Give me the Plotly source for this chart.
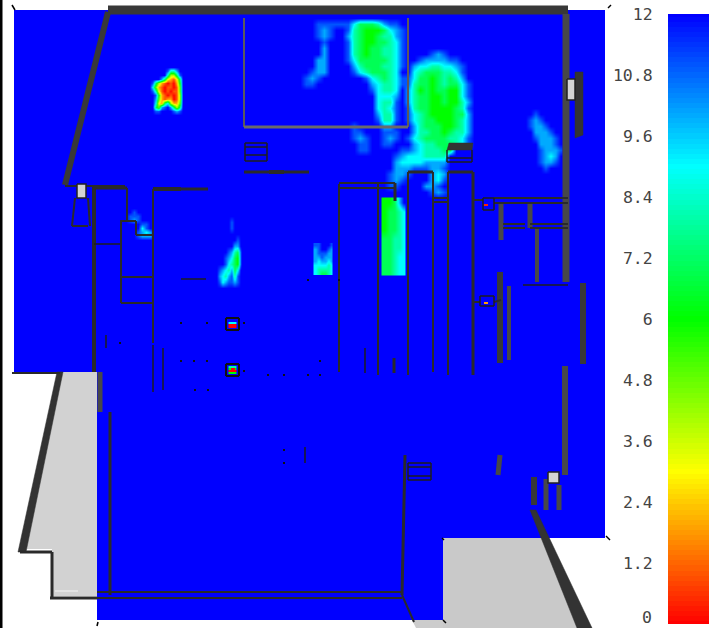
import numpy as np
import plotly.graph_objects as go

W, H = 721, 628
TICK_VALUES = [0, 1.2, 2.4, 3.6, 4.8, 6, 7.2, 8.4, 9.6, 10.8, 12]
TICK_TEXT = ["0", "1.2", "2.4", "3.6", "4.8", "6", "7.2", "8.4", "9.6", "10.8", "12"]
COLORSCALE = [[0, "#ff0000"], [0.25, "#ffff00"], [0.5, "#00ff00"], [0.75, "#00ffff"], [1, "#0000ff"]]
LEVELS = [i / 10 for i in range(0, 121)]

# Contour fields, one hexadecimal digit per cell (c = 12, blue)
MAIN_X = list(range(300, 480, 6))
MAIN_Y = list(range(18, 204, 6))
MAIN_ROWS = [
    "",
    "cccbbbbbb97778abb",
    "cccbabccb8766679ab",
    "cccbabcca8766788ab",
    "ccccbcccb87667789b",
    "ccccacccb87677889b",
    "ccccacccb87677889bccccbab",
    "cccaacccb97777789bccbaaaabb",
    "cccaacccca8777889bca998899ab",
    "ccbaaccccb9877789cc98777889b",
    "cbabcccccccb98789bb97767878a",
    "cbbccccccccca9889bb877678779b",
    "ccccccccccccb9889ca867677669b",
    "ccccccccccccc999aca877667669b",
    "ccccccccccccc988bca877667668a",
    "ccccccccccccc989bcb877666678b",
    "ccccccccccccca88bcb987666677a",
    "cccccccccccccb88bcb987766678a",
    "cccccccccbccccaaccca87776678a",
    "cccccccccbbcccbbbcca88776788a",
    "cccccccccbabccbabcb987777889b",
    "ccccccccccbbccbbccca98877789b",
    "ccccccccccbbcccccbba988877",
    "ccccccccccccccccba9998888",
    "cccccccccccccccca9999aaaa",
    "ccccccccccccccccaaabbbaab",
    "cccccccccccccccbaabccca9a",
    "cccccccccccccccbabcccca9b",
    "cccccccccccccccbbccccaab",
    "ccccccccccccccccccccccbab",
    "",
]
ROOM_X = [384, 389, 394, 399, 403]
ROOM_Y = [202, 211, 220, 229, 238, 247, 256, 265, 272]
ROOM_ROWS = ["667ac", "67789", "67789", "67789", "77889", "77889", "77899", "77899", "77899"]
NOOK_X = [315, 318, 321, 325, 328, 331]
NOOK_Y = [245, 249, 253, 257, 261, 265, 269, 273]
NOOK_ROWS = ["bbcccb", "abccba", "abbbaa", "aabaaa", "a9aa9a", "999989", "988889", "987789"]
STREAK_X = [216, 219, 222, 225, 228, 231, 234, 237, 240]
STREAK_Y = [216, 222, 228, 234, 240, 246, 252, 258, 264, 270, 276, 282, 288]
STREAK_ROWS = ["", "cccccbccc", "cccccbccc", "", "cccccccbc", "ccccccaac", "ccccba87b", "cccba976b",
               "cccb9876b", "cba98a79c", "ca98ab8bc", "cb9abbabc", ""]
EAST_X = [525, 530, 535, 540, 545, 550, 555, 560]
EAST_Y = [108, 114, 120, 126, 132, 138, 144, 150, 156, 162, 168, 174]
EAST_ROWS = ["", "ccbccccc", "cbabcccc", "cbaabccc", "ccaaabcc", "ccbaaabc", "cccaaabc", "cccbaaab",
             "cccba9ac", "cccbaabc", "ccccbccc", ""]
WEST_X = [126, 130, 134, 138, 142, 146, 150, 154]
WEST_Y = [208, 212, 216, 220, 224, 228, 232, 236, 240]
WEST_ROWS = ["", "ccbccccc", "cbbbcccc", "cbabcccc", "ccccbbcc", "cccc9bcc", "cccba9ac", "cccbaaac", ""]
HOT_X = list(range(149, 185, 3))
HOT_Y = [67, 71, 75, 79, 83, 87, 91, 95, 99, 103, 107, 111, 115]
HOT_ROWS = ["", "ccccccb88acc", "cccccc8447bc", "cccca732137c", "cb742101026c", "c9521011015c",
            "cb831010115c", "ccb62101014c", "cca52122014c", "cc932794225c", "cc75abca747c",
            "ccbbccccbabc", ""]
SENSOR_X = [229.5, 231.5, 233.5, 235.5]
SENSOR_A_Y = [321, 323, 325, 327]
SENSOR_A_ROWS = ["cccc", "9999", "0000", "0000"]
SENSOR_B_Y = [367, 369, 371, 373]
SENSOR_B_ROWS = ["8888", "6006", "0000", "6666"]

# Floor plan outlines
FLOOR_OUTLINE = [(14, 10), (605, 10), (605, 538), (443, 538), (443, 620), (97, 620), (97, 373), (14, 373)]
GREY_WEST = [(60, 372), (97, 372), (97, 596), (52, 596), (52, 549), (24, 549)]
GREY_EAST = [(443, 538), (545, 538), (592, 628), (443, 628)]
GREY_SOUTH = [(412, 620), (443, 620), (443, 628), (416, 628)]
SOLIDS = [
    [(57, 372), (63, 372), (26, 552), (18, 552)],
    [(530, 510), (536, 510), (592, 628), (577, 628)],
    [(449, 143), (473, 143), (472, 150), (447, 150)],
    [(575, 72), (583, 72), (583, 135), (575, 138)],
]
WALLS = {
    ("#383838", 9): [(108, 10, 568, 10)],
    ("#383838", 6): [(108, 12, 65, 185), (500, 272, 500, 363), (583, 283, 583, 364), (534, 477, 534, 505)],
    ("#484848", 7): [(566, 14, 566, 282)],
    ("#484848", 6): [(565, 366, 565, 475)],
    ("#484848", 5): [(501, 203, 501, 240), (530, 203, 530, 228), (500, 455, 498, 475), (546, 479, 546, 510),
                     (559, 485, 559, 510), (100, 372, 100, 412)],
    ("#484848", 4): [(537, 228, 537, 282), (509, 286, 509, 360)],
    ("#2a2a2a", 4): [(94, 187, 94, 372), (153, 189, 181, 189), (269, 172, 284, 172)],
    ("#2a2a2a", 3): [(94, 188, 127, 188), (181, 189, 208, 189), (244, 172, 309, 172), (408, 172, 433, 172),
                     (448, 172, 473, 172), (473, 172, 473, 375), (395, 183, 395, 201), (394, 358, 394, 373),
                     (405, 455, 402, 595), (110, 412, 110, 595), (52, 552, 52, 598), (20, 552, 52, 552),
                     (50, 598, 97, 598)],
    ("#2a2a2a", 2): [(127, 188, 127, 220), (121, 221, 121, 303), (120, 221, 136, 221), (136, 221, 136, 235),
                     (136, 235, 153, 235), (121, 277, 153, 277), (121, 303, 153, 303), (153, 189, 153, 343),
                     (339, 184, 339, 372), (339, 183, 395, 183), (339, 188, 395, 188), (378, 184, 378, 375),
                     (408, 172, 408, 375), (433, 172, 433, 372), (448, 172, 448, 375), (433, 198, 448, 198),
                     (433, 202, 448, 202), (97, 592, 402, 592), (97, 598, 402, 598), (65, 186, 125, 186),
                     (75, 198, 72, 226), (88, 198, 90, 226), (72, 226, 88, 226), (473, 200, 483, 200),
                     (494, 198, 568, 198), (494, 203, 568, 203), (503, 224, 525, 224), (503, 228, 525, 228),
                     (530, 224, 568, 224), (530, 228, 568, 228), (473, 302, 480, 302), (494, 302, 501, 300),
                     (12, 373, 60, 373), (402, 595, 414, 622)],
    ("#1e1e1e", 1.5): [(94, 244, 120, 244), (181, 279, 206, 279), (523, 285, 568, 285), (245, 143, 267, 143),
                       (245, 155, 267, 155), (245, 147, 267, 147), (245, 161, 267, 161), (245, 143, 245, 161),
                       (267, 143, 267, 161), (408, 463, 431, 463), (408, 480, 431, 480), (408, 463, 408, 480),
                       (431, 463, 431, 480), (408, 467, 431, 467), (408, 476, 431, 476), (447, 150, 447, 162),
                       (472, 150, 472, 162), (447, 162, 472, 162), (447, 158, 472, 158), (106, 335, 106, 348),
                       (163, 348, 163, 390), (153, 345, 153, 392), (365, 348, 365, 373), (305, 447, 305, 463),
                       (483, 198, 494, 198), (483, 210, 494, 210), (483, 198, 483, 210), (494, 198, 494, 210),
                       (480, 296, 494, 296), (480, 306, 494, 306), (480, 296, 480, 306), (494, 296, 494, 306)],
    ("#5a5a5a", 2): [(244, 18, 244, 127), (408, 18, 408, 127)],
    ("#6a6a6a", 3): [(244, 127, 408, 127)],
    ("#000000", 3): [(1, 0, 1, 628)],
    ("#111111", 2): [(226, 318, 239, 318), (226, 330, 239, 330), (226, 318, 226, 330), (239, 318, 239, 330),
                     (226, 364, 239, 364), (226, 376, 239, 376), (226, 364, 226, 376), (239, 364, 239, 376)],
    ("#000000", 1.5): [(12, 5, 15, 10), (606, 536, 610, 540), (98, 622, 97, 626), (442, 538, 444, 540),
                       (443, 620, 446, 623), (608, 8, 611, 5)],
    ("#ff2000", 2): [(484, 205, 488, 205)],
    ("#ffa000", 2): [(484, 303, 488, 303)],
    ("#e8e8e8", 1.5): [(55, 591, 78, 591)],
}
LIGHT_BOXES = [
    [(77, 184), (86, 184), (86, 198), (77, 198)],
    [(567, 79), (575, 79), (575, 100), (567, 100)],
    [(548, 472), (559, 472), (559, 483), (548, 483)],
]
SPECK_X = [181, 207, 244, 181, 194, 207, 244, 268, 284, 308, 320, 320, 195, 208, 284, 284, 120, 308, 339]
SPECK_Y = [323, 323, 323, 361, 361, 361, 371, 375, 375, 375, 375, 361, 390, 390, 450, 463, 343, 280, 280]


def grid(rows, n):
    return [[int(ch, 16) for ch in r.ljust(n, "c")[:n]] for r in rows]


def path(pts):
    return "M" + "L".join(f"{x},{y}" for x, y in pts) + "Z"


fig = go.Figure()

for xs, ys, rows, smooth in [
    (MAIN_X, MAIN_Y, MAIN_ROWS, "best"),
    (ROOM_X, ROOM_Y, ROOM_ROWS, "best"),
    (NOOK_X, NOOK_Y, NOOK_ROWS, "best"),
    (STREAK_X, STREAK_Y, STREAK_ROWS, "best"),
    (EAST_X, EAST_Y, EAST_ROWS, "best"),
    (WEST_X, WEST_Y, WEST_ROWS, "best"),
    (HOT_X, HOT_Y, HOT_ROWS, "best"),
    (SENSOR_X, SENSOR_A_Y, SENSOR_A_ROWS, False),
    (SENSOR_X, SENSOR_B_Y, SENSOR_B_ROWS, False),
]:
    fig.add_trace(go.Heatmap(x=xs, y=ys, z=grid(rows, len(xs)), zsmooth=smooth, coloraxis="coloraxis",
                             hoverinfo="skip"))

for pts in SOLIDS:
    px, py = zip(*pts)
    fig.add_trace(go.Scatter(x=list(px) + [px[0]], y=list(py) + [py[0]], mode="lines", fill="toself",
                             fillcolor="#333333", line=dict(color="#333333", width=0.5), hoverinfo="skip"))

for (color, width), segs in WALLS.items():
    xs, ys = [], []
    for x0, y0, x1, y1 in segs:
        xs += [x0, x1, None]
        ys += [y0, y1, None]
    fig.add_trace(go.Scatter(x=xs, y=ys, mode="lines", line=dict(color=color, width=width), hoverinfo="skip"))

fig.add_trace(go.Scatter(x=SPECK_X, y=SPECK_Y, mode="markers", marker=dict(color="#111111", size=2, symbol="square"),
                         hoverinfo="skip"))

for pts in LIGHT_BOXES:
    px, py = zip(*pts)
    fig.add_trace(go.Scatter(x=list(px) + [px[0]], y=list(py) + [py[0]], mode="lines", fill="toself",
                             fillcolor="#d4d4d4", line=dict(color="#222222", width=1.5), hoverinfo="skip"))

# Colour scale on its own axis, labels on the left
fig.add_trace(go.Heatmap(x=[0, 1], y=LEVELS, z=[[v, v] for v in LEVELS], coloraxis="coloraxis",
                         xaxis="x2", yaxis="y2", hoverinfo="skip"))

shapes = [dict(type="path", path=path(FLOOR_OUTLINE), fillcolor="#0000ff", line=dict(width=0), layer="below")]
for pts, col in [(GREY_WEST, "#d2d2d2"), (GREY_EAST, "#c9c9c9"), (GREY_SOUTH, "#cccccc")]:
    shapes.append(dict(type="path", path=path(pts), fillcolor=col, line=dict(width=0), layer="below"))

TICK_FONT = dict(family="DejaVu Sans Mono", size=16.5, color="#444444")
fig.update_layout(
    width=W, height=H, margin=dict(l=0, r=0, t=0, b=0), autosize=False,
    paper_bgcolor="white", plot_bgcolor="rgba(0,0,0,0)", showlegend=False, shapes=shapes,
    coloraxis=dict(colorscale=COLORSCALE, cmin=0, cmax=12, showscale=False),
    xaxis=dict(range=[0, W], domain=[0, 1], visible=False, fixedrange=True, automargin=False),
    yaxis=dict(range=[H, 0], domain=[0, 1], visible=False, fixedrange=True, automargin=False),
    xaxis2=dict(range=[0, 1], domain=[668 / W, 709 / W], visible=False, anchor="y2", fixedrange=True,
                automargin=False),
    yaxis2=dict(range=[0, 12], domain=[1 - 624 / H, 1 - 14 / H], anchor="x2", side="left", showgrid=False,
                zeroline=False, showline=False, tickmode="array", tickvals=TICK_VALUES[1:], ticktext=TICK_TEXT[1:],
                ticks="outside", ticklen=11, tickcolor="rgba(0,0,0,0)", fixedrange=True, automargin=False,
                tickfont=TICK_FONT),
    annotations=[dict(text=TICK_TEXT[0], xref="x2 domain", yref="y2", x=-11 / 41, y=TICK_VALUES[0], xanchor="right",
                      yanchor="middle", showarrow=False, font=TICK_FONT, xshift=-3, yshift=7)],
)
PIN_TO_CORNER = ("var g=document.getElementById('{plot_id}');g.style.position='fixed';"
                 "g.style.left='0';g.style.top='0';document.body.style.margin='0';")
fig.write_html("out.html", post_script=PIN_TO_CORNER, config={"displayModeBar": False})
